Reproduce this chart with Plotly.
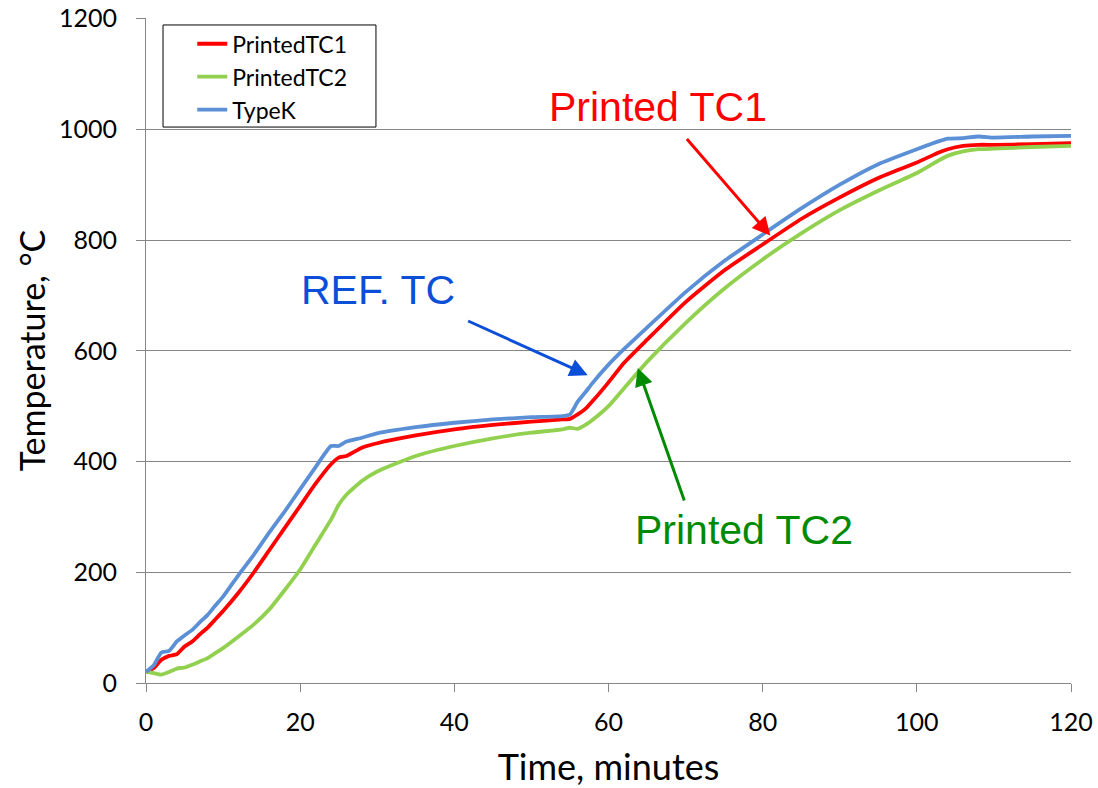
import plotly.graph_objects as go

time_min = [0, 1, 2, 3, 4, 5, 6, 7, 8, 9, 10, 12, 14, 16, 18, 20, 22, 24, 25, 26, 28, 30, 35, 40, 45, 50, 54, 55, 56, 57, 58, 60, 62, 65, 70, 75, 80, 85, 90, 95, 100, 103, 104, 106, 108, 110, 115, 120]

printed_tc1 = [20, 27, 42, 49, 52, 66, 75, 88, 100, 115, 130, 163, 200, 240, 280, 320, 360, 395, 407, 410, 425, 433, 447, 458, 466, 472, 476, 477, 485, 495, 510, 543, 578, 620, 688, 745, 792, 838, 877, 912, 940, 959, 964, 970, 972, 972, 973, 975]

printed_tc2 = [20, 18, 15, 20, 26, 28, 33, 39, 45, 54, 63, 84, 106, 133, 168, 205, 250, 295, 322, 340, 365, 382, 410, 428, 442, 452, 458, 461, 459, 466, 476, 500, 532, 580, 650, 712, 765, 812, 854, 889, 921, 945, 952, 960, 964, 965, 968, 970]

type_k = [20, 32, 55, 58, 75, 86, 96, 110, 123, 140, 156, 195, 232, 272, 310, 350, 390, 428, 428, 436, 443, 451, 462, 470, 476, 480, 482, 485, 508, 525, 543, 575, 603, 642, 706, 762, 810, 857, 900, 937, 964, 979, 983, 984, 987, 985, 987, 988]

series_names = ["PrintedTC1", "PrintedTC2", "TypeK"]
series_colors = ["#FF0000", "#92D050", "#5B8FD6"]

fig = go.Figure()
for name, ys, col in zip(series_names, [printed_tc1, printed_tc2, type_k], series_colors):
    fig.add_trace(go.Scatter(x=time_min, y=ys, mode="lines", name=name,
                             line=dict(color=col, width=3.8, shape="spline", smoothing=0.5)))

font_ann = "Liberation Sans"
font_ax = "Lato"

annotations = [
    dict(text="Printed TC1", color="#FF0000", tx=66.4, ty=1040, hx=81, hy=808, sx=70, sy=985),
    dict(text="REF. TC", color="#0B4FD8", tx=30.1, ty=709, hx=57.3, hy=556, sx=41.6, sy=655),
    dict(text="Printed TC2", color="#008A00", tx=77.6, ty=276, hx=63.8, hy=569, sx=69.9, sy=327),
]
for a in annotations:
    fig.add_annotation(x=a["tx"], y=a["ty"], text=a["text"], showarrow=False,
                       font=dict(family=font_ann, size=41, color=a["color"]),
                       xref="x", yref="y")
    fig.add_annotation(x=a["hx"], y=a["hy"], ax=a["sx"], ay=a["sy"],
                       xref="x", yref="y", axref="x", ayref="y", text="",
                       showarrow=True, arrowhead=2, arrowsize=1.2, arrowwidth=3,
                       arrowcolor=a["color"])

# legend frame (box drawn around the legend entries)
fig.add_shape(type="rect", xref="paper", yref="paper",
              x0=0.0184, x1=0.2486, y0=0.836, y1=0.9895,
              line=dict(color="black", width=1), fillcolor="white", layer="below")

fig.update_layout(
    width=1098, height=788,
    margin=dict(l=146, r=27, t=18, b=105),
    paper_bgcolor="white", plot_bgcolor="white",
    font=dict(family=font_ax, size=25, color="black"),
    showlegend=True,
    legend=dict(x=0.050, y=0.9935, xanchor="left", yanchor="top",
                borderwidth=0, bgcolor="rgba(0,0,0,0)",
                font=dict(family=font_ax, size=23), tracegroupgap=0),
    xaxis=dict(range=[0, 120], dtick=20, showgrid=False, showline=True,
               linecolor="#868686", linewidth=1, ticks="outside", ticklen=8,
               tickcolor="#868686", zeroline=False, automargin=False,
               ticklabelstandoff=9, ticklabeloverflow="allow",
               title=dict(text="Time, minutes", font=dict(size=36), standoff=21),
               tickfont=dict(size=25)),
    yaxis=dict(range=[0, 1201], tickvals=[0, 200, 400, 600, 800, 1000, 1200],
               showgrid=True, gridcolor="#868686",
               gridwidth=1, showline=True, linecolor="#868686", linewidth=1,
               ticks="outside", ticklen=9, tickcolor="#868686", zeroline=False,
               automargin=False, ticklabelstandoff=14, ticklabeloverflow="allow",
               title=dict(text="Temperature, °C", font=dict(size=34), standoff=3),
               tickfont=dict(size=25)),
)

fig.write_html("out.html",
               config={"displayModeBar": False},
               post_script="document.body.style.margin='0';document.body.style.overflow='hidden';")
